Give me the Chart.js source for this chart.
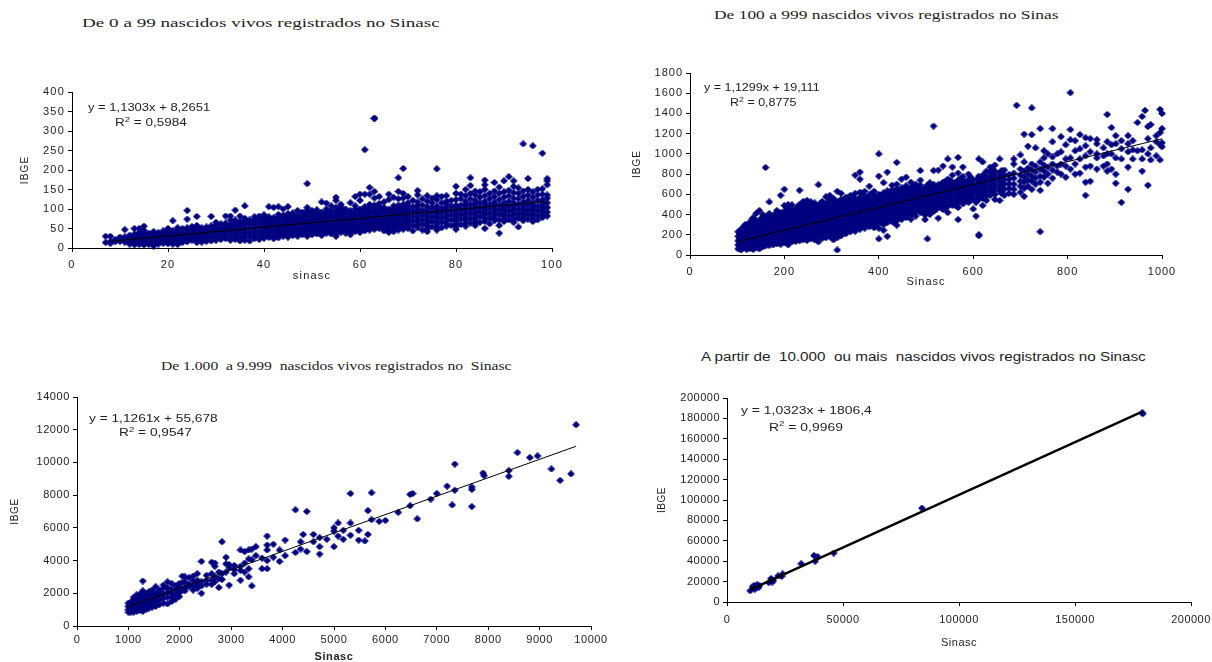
<!DOCTYPE html>
<html>
<head>
<meta charset="utf-8">
<title>Sinasc x IBGE</title>
<script src="https://cdn.jsdelivr.net/npm/chart.js@4"></script>
<style>
html, body { margin: 0; background: #fff; width: 1212px; height: 662px; overflow: hidden; }
body { filter: blur(0.45px); }
canvas { position: absolute; }
.lbl { position: absolute; white-space: nowrap; transform-origin: left center; line-height: 14px; color: #222; }
.lbl sup { font-size: 70%; line-height: 0; }
</style>
</head>
<body>
<script>
// each row: sinasc value, then the ibge values read at that sinasc value
const rows1 = [
[7,14,30],[8,12,17,30],[9,16,22],[10,17,22,28],[11,15,20,29,47],[12,14,19,26,33],[13,8,13,20,27,36,50],[14,9,16,24,31,40,50],[15,8,12,20,27,36,45,56],[16,9,14,22,30,38],
[17,5,11,18,26,34,42],[18,10,16,23,31,40],[19,12,18,26,35,44],[20,11,17,25,33,42,50],[21,10,18,27,36,45,70],[22,9,15,24,32,41,52],[23,14,21,30,39,50],[24,16,24,33,42,52,74,96],[25,20,28,37,46,55],[26,14,23,31,40,49,58,81],
[27,15,25,34,43,52],[28,17,26,36,45,54],[29,18,28,38,47,57,81],[30,20,30,39,49,58,66],[31,22,32,41,50,62],[32,24,33,43,53,64,82],[33,20,30,40,50,60,72,82],[34,22,31,42,52,62,72,97],[35,18,28,38,48,58,68,82],[36,20,32,44,56,66,76,108],
[37,18,30,40,50,62,72],[38,24,35,46,56,66,80],[39,22,32,42,54,64,74,82],[40,25,36,47,58,68,78,85],[41,27,38,48,60,70,80,106],[42,24,35,46,56,68,78,104],[43,26,38,50,60,72,86,106],[44,30,40,52,62,74,84,100],[45,28,40,50,64,76,88,106],[46,32,44,56,66,78,90],
[47,30,42,52,64,76,96],[48,34,46,58,70,82,92],[49,30,42,54,66,78,90,104,165],[50,34,46,58,70,82,96],[51,36,48,60,72,84,98],[52,32,44,56,68,80,92,118],[53,38,50,62,74,86,100,115],[54,36,48,60,72,84,96,108],[55,30,42,54,66,78,90,104,122,130],[56,40,52,64,76,88,100,112],
[57,38,50,62,74,86,100],[58,34,46,58,70,82,96,116],[59,42,54,66,78,90,108,132],[60,40,52,64,76,88,100,122,138],[61,44,56,68,80,92,106,138,252],[62,46,58,70,82,94,112,138,155],[63,48,60,72,84,96,110,128,145,332,333],[64,50,62,74,86,98,114,132],[65,44,56,68,80,92,104,118],[66,40,52,64,76,88,100,124,138],
[67,42,58,70,82,94,108,130],[68,46,60,72,84,96,110,126,145,180],[69,48,62,74,86,98,112,128,140,204],[70,50,64,76,88,100,116,132],[71,44,58,70,82,94,106,122],[72,52,66,78,90,102,118,136,147],[73,46,60,72,84,96,110,126],[74,42,56,68,80,92,106,120,134],[75,54,68,80,92,104,116,128],[76,46,60,72,84,96,108,124,134,203],
[77,52,66,78,90,102,116,132],[78,56,70,82,94,106,120,134],[79,58,72,84,96,108,122],[80,48,62,74,86,98,110,124,140,158],[81,60,74,86,98,110,126,138],[82,56,70,82,94,106,120,134,150],[83,64,76,88,100,112,126,140,160,180],[84,58,72,84,96,108,122,136,146],[85,66,80,92,104,116,130,144],[86,50,68,82,94,106,120,134,150,162,174],
[87,62,76,88,100,112,126,140],[88,70,82,94,106,118,132,146,168],[89,38,58,72,86,98,110,124,140,156],[90,68,80,92,104,116,130,144,172],[91,72,84,96,108,120,134,148,183],[92,66,78,90,102,116,128,142,158,172],[93,54,76,88,100,112,126,140,154],[94,70,82,94,106,118,132,146,267],[95,74,86,98,110,122,136,150,178],[96,68,80,92,104,116,130,144,262],
[97,72,84,96,108,122,136,150],[98,78,88,100,112,124,138,152,243],[99,82,92,104,116,128,136,162,172,178]
];
// the dense core of the first cloud
const rows1core = [
[10,24],[12,10,23,29],[14,13,20,28,36],[16,12,18,26,34],[18,13,20,27,35],[20,14,21,29,37,46],[22,12,20,28,36,46],[24,20,28,37,47],[26,19,27,35,44,54],[28,21,31,40,49],[30,25,34,44,53],[32,29,38,48,58],[34,26,36,47,57,66],[36,26,38,50,61,71],[38,29,40,51,61,72],[40,30,41,52,63,73],[41,33,43,54,65,75],[42,30,40,51,62,73],[43,32,44,55,66,79],[44,35,46,57,68,79],
[45,34,45,57,70,82],[46,38,50,61,72,84],[47,36,47,58,70,84],[48,40,52,64,76,87],[49,36,48,60,72,84,97],[50,40,52,64,76,89],[51,42,54,66,78,91],[52,38,50,62,74,86],[53,44,56,68,80,93],[54,42,54,66,78,90],[55,36,48,60,72,84,97],[56,46,58,70,82,94,106],[57,44,56,68,80,93],[58,40,52,64,76,89],[59,48,60,72,84,99],[60,46,58,70,82,94],[61,50,62,74,86,99],[62,52,64,76,88,103],[63,54,66,78,90,103],[64,56,68,80,92,106],
[65,50,62,74,86,98],[66,46,58,70,82,94],[67,50,64,76,88,101],[68,53,66,78,90,103],[69,55,68,80,92,105],[70,57,70,82,94,108],[72,59,72,84,96,110],[74,49,62,74,86,99],[76,53,66,78,90,102],[78,63,76,88,100,113],[80,55,68,80,92,104],[82,63,76,88,100,113],[84,65,78,90,102,115],[86,75,88,100,113],[88,76,88,100,112],[90,74,86,98,110],[92,72,84,96,109],[94,76,88,100,112],[96,74,86,98,110],[98,83,94,106,118]
];
const rows2 = [
[102,60,100,140,185,230],[108,50,85,125,165,205,250],[114,70,110,150,195,240,280],[120,55,95,135,175,220,265,300],[127,65,105,150,190,235,280,320],[134,55,100,140,185,225,270,315,370],[140,70,115,160,205,250,295,340,410],[147,60,110,155,200,245,290,335,440],[154,80,125,170,215,260,305,350,400],
[160,90,135,180,225,270,315,360,865],[168,95,140,185,230,275,320,365,410,525],[176,100,145,190,235,280,325,370],[184,110,155,200,245,290,335,380,440],[192,105,150,195,240,285,330,375,420,590],[200,120,165,210,255,300,345,390,435,490,650],[208,100,140,185,230,275,320,365,410,455,500],[216,130,175,220,265,310,355,400,445,495],[224,135,180,225,270,315,360,405,450],
[232,140,185,230,275,320,365,410,455,500,640],[240,150,195,240,285,330,375,420,470,530],[248,145,190,235,280,325,370,415,460,540],[256,160,205,250,295,340,385,430,475,525],[264,150,195,240,285,330,375,420,465,515],[272,130,175,220,265,310,355,400,445,490,695],[280,165,210,255,300,345,390,435,480,530],[288,170,215,260,305,350,395,440,485,575],[296,185,230,275,320,365,410,455,500,550,590],
[304,150,195,240,285,330,375,420,465,510,560],[312,50,170,215,260,305,350,395,440,485,530,630],[320,190,235,280,325,370,415,460,505,550,610],[330,210,255,300,345,390,435,480,525,570],[340,230,275,320,365,410,455,500,545,590],[350,235,280,325,370,415,460,505,550,610,790],[360,255,300,345,390,435,480,525,570,620,750,820],[370,265,310,355,400,445,490,535,580,630],[380,280,325,370,415,460,505,550,595,680],
[390,270,315,360,405,450,495,540,585,630],[400,160,265,330,375,420,465,510,555,600,780,1000],[410,245,300,345,390,435,480,525,570,615,715],[418,185,320,365,410,455,500,545,590,635,820],[428,330,375,420,465,510,555,600,645,690],[438,295,340,385,430,475,520,565,610,655,700,915],[448,350,395,440,485,530,575,620,665,750],[458,370,415,460,505,550,595,640,685,770],[468,355,400,445,490,535,580,625,670,720],
[478,385,430,475,520,565,610,655,700],[488,420,465,510,555,600,645,690,740,835],[498,350,395,440,485,530,575,620,665],[503,160],[508,400,445,490,535,580,625,670,715],[516,430,475,520,565,610,655,700,835,1275],[526,365,470,515,560,605,650,695,840],[536,450,495,540,585,630,675,720,880],[546,420,480,525,570,615,660,705,750,950],[556,490,535,580,625,670,715,790,870],
[568,350,470,515,560,605,650,695,740,810,965],[578,505,550,595,640,685,730,775,870],[590,520,565,610,655,700,745,800],[600,455,560,605,650,695,740],[606,385,520,640,690],[612,190,200,550,600,645,690,735,780,950],[620,490,560,605,650,695,740,785,920],[628,540,590,635,680,725,770,830],[636,590,640,685,730,775,820,870],[646,550,600,650,695,740,785,830,890],[656,540,630,675,720,765,810,950],
[666,590,650,700,745,790,840],[676,610,660,705,750,795],[686,600,650,700,760,810,900,950],[692,1480],[700,620,680,730,790,850,990],[708,580,660,720,770,830,920,1195],[716,680,740,800,860,1075],[724,650,730,780,840,900,1190,1455],[732,700,760,820,880,1060],[742,230,640,720,780,850,920,1250],[750,770,830,890,960,1030],[758,710,800,870,1000],[768,760,840,900,970,1120,1250],
[778,820,880,1000],[786,800,900,1020,1170],[796,770,880,950,1090],[806,850,960,1140,1240,1605],[816,800,900,1030,1130],[826,810,950,1050,1190],[838,590,720,870,980,1080,1160],[848,730,880,1020,1150],[862,850,960,1000,1100,1140],[876,880,980,1060],[884,830,900,1000,1120,1390],[893,850,1000,1090,1260],[902,710,800,960,1100,1180],[914,520,950,1050,1130],
[928,650,870,1020,1100,1180],[938,950,1040,1130],[948,1030,1310],[958,830,950,1040,1370],[964,1430],[970,690,1000,1150,1270],[976,940,1060,1290],[988,980,1120,1180],[996,940,1090,1210,1440],[1000,1070,1110,1250,1400]
];
// the dense core of the second cloud
const rows2core = [
[105,80,120,162,208],[111,68,105,145,185,228,265],[117,90,130,172,218,260,300],[124,80,120,163,205,250,295],[130,85,128,170,212,258,300,345],[137,78,120,162,205,248,292],[143,92,138,182,228,272,318],[150,85,132,178,222,268,312,360],[157,102,148,192,238,282,328],[164,112,158,202,248,292,338,385],[172,118,162,208,252,298,345,390],[180,128,178,222,268,312,358,405],[188,130,172,218,262,308,352,400],[196,138,188,232,278,322,368,412],
[204,122,162,208,252,298,342,388,432,478],[212,152,198,242,288,332,378,422,470],[220,158,202,248,292,338,382,428],[228,162,208,252,298,342,388,432,478],[236,172,218,262,308,352,398,445,500],[244,168,212,258,302,348,392,438,490],[252,182,228,272,318,362,408,452,505],[260,172,218,262,308,352,398,442,490],[268,155,198,242,288,332,378,422,468],[276,188,232,278,322,368,412,458,505],[284,192,238,282,328,372,418,462,510],[292,208,252,298,342,388,432,478,525],
[300,172,218,262,308,352,398,442,488,535],[308,195,238,282,328,372,418,462,508],[316,212,258,302,348,392,438,482,530],[325,232,278,322,368,412,458,502,548],[335,252,298,342,388,432,478,522,568],[345,258,302,348,392,438,482,528,575],[355,278,322,368,412,458,502,548],[365,288,332,378,422,468,512,558,605],[375,302,348,392,438,482,528,572],[385,292,338,382,428,472,518,562,610],[395,300,352,398,442,488,532,578],[405,320,368,412,458,502,548,592],[414,342,388,432,478,522,568,612],
[423,352,398,442,488,532,578,622],[433,318,362,408,452,498,542,588,632],[443,372,418,462,508,552,598,642],[453,392,438,482,528,572,618,662],[463,378,422,468,512,558,602,648],[473,408,452,498,542,588,632,678],[483,442,488,532,578,622,668],[493,418,462,508,552,598,642],[503,422,468,512,558,602,648,692],[512,452,498,542,588,632,678],[521,448,492,538,582,628,672],[531,472,518,562,608,652,698],[541,458,502,548,592,638,682,730],[551,512,558,602,648,692,738],[562,492,538,582,628,672,718],
[573,528,572,618,662,708,755],[584,538,588,632,678,722],[595,542,588,632,678,722,770],[610,582,622,668,712,758],[624,568,615,658,702,748,800],[640,620,665,708,752,798,850],[660,610,655,698,742,788,835]
];
const rows3 = [
[1000,850,1000,1200,1400],[1040,830,1050,1250,1450],[1100,850,1100,1350,1600,1750],[1160,900,1150,1400,1650,1900],[1220,950,1200,1450,1700,1950],[1280,900,1150,1400,1650,1900,2150,2750],[1340,1000,1250,1500,1750,2000],[1400,1100,1350,1600,1850,2100],[1460,1150,1400,1650,1900,2200],[1530,1200,1500,1750,2000,2400],[1600,1300,1600,1850,2100,2200],[1680,1400,1700,1950,2300,2500],
[1760,1350,1750,2050,2350,2700],[1840,1500,1750,2000,2250,2600],[1920,1650,1900,2200,2450],[1990,1800,2050,2400,2600],[2050,2200,2650,3050],[2100,2150,2350,2700,3000],[2180,2400,2550,2950],[2260,2200,2450,2750,3050],[2340,2300,2550,2800,3200],[2420,2000,2450,2700,3950],[2520,2550,2800,3100],[2620,2550,2800,3200,3900],[2680,2700,3000,3650,3850],[2760,2350,2900,3300],
[2820,2850,3200,5150],[2900,3300,3800,4200],[2960,2500,3550,3750],[3060,3200,3450,3700],[3180,2800,3400,3650,4650],[3260,3300,3850,4550],[3340,3000,3500,4100,4650],[3400,2450,4050,4700],[3480,4300,4850],[3600,3500,4150],[3700,3500,4000,4650,4950,5500],[3820,4200,5000],[3940,3950,4650],[4050,4300,5250],[4250,4500,7100],[4350,4700,5150],[4400,5600],[4470,4550,7000],
[4600,5150,5600],[4720,4400,4850,5400],[4860,5300],[5000,4850,5800,6000],[5080,5500,6300],[5180,5300,5850],[5320,5550,6300,8100],[5480,5250,5850],[5600,5200],[5660,5600,7050],[5730,6500,8150],[5880,6400],[6000,6450],[6250,6950],[6480,7350,8050],[6530,8100],[6620,6550],[6880,7750],[7000,8100],[7200,8550],[7300,7400],[7350,8300,9900],[7680,7300,8350,8500],[7900,9350],[7920,9200],[8400,9150,9500],[8570,10600],[8810,10300],[8960,10400],[9230,9600],[9400,8900],[9610,9300],[9710,12300]
];
const sinasc4 = [10000,11000,11700,12000,12500,13000,13500,14000,18000,19000,19500,20000,22000,23500,24000,32000,37500,38000,39000,46000,84000,179000,179200];
const ibge4 = [11000,15000,16000,12500,14500,17000,14000,16000,19000,23000,19500,21000,25500,25000,27500,37500,45500,40000,44500,48000,92000,185500,184500];

const trendX1 = [8,99], trendY1 = [17.3,120];
const trendX2 = [102,1000], trendY2 = [134,1149];
const trendX3 = [1000,9710], trendY3 = [1182,10990];
const trendX4 = [10000,179000], trendY4 = [12129,186588];

const xTicks1 = [0,20,40,60,80,100], yTicks1 = [0,50,100,150,200,250,300,350,400];
const xTicks2 = [0,200,400,600,800,1000], yTicks2 = [0,200,400,600,800,1000,1200,1400,1600,1800];
const xTicks3 = [0,1000,2000,3000,4000,5000,6000,7000,8000,9000,10000], yTicks3 = [0,2000,4000,6000,8000,10000,12000,14000];
const xTicks4 = [0,50000,100000,150000,200000], yTicks4 = [0,20000,40000,60000,80000,100000,120000,140000,160000,180000,200000];

const SANS = '"Liberation Sans", Arial, sans-serif';
const SERIF = '"Liberation Serif", "Times New Roman", serif';
const NAVY = '#000080';

function fromRows(rows) {
  return rows.flatMap(r => r.slice(1).map(v => ({ x: r[0], y: v })));
}
function zip(xs, ys) {
  return xs.map((x, i) => ({ x: x, y: ys[i] }));
}

// rounded diamond, the excel marker after the scan softened it
function makeMarker() {
  const m = document.createElement('canvas');
  m.width = 8;
  m.height = 7;
  const g = m.getContext('2d');
  g.fillStyle = g.strokeStyle = NAVY;
  g.lineWidth = 1.2;
  g.lineJoin = 'round';
  g.beginPath();
  g.moveTo(4, 0.8);
  g.lineTo(7, 3.5);
  g.lineTo(4, 6.2);
  g.lineTo(1, 3.5);
  g.closePath();
  g.fill();
  g.stroke();
  return m;
}
const marker = makeMarker();

function addLabel(html, left, cy, font, size, sx) {
  const d = document.createElement('div');
  d.className = 'lbl';
  d.innerHTML = html;
  d.style.left = left + 'px';
  d.style.top = (cy - 7) + 'px';
  d.style.fontFamily = font;
  d.style.fontSize = size + 'px';
  d.style.transform = 'scaleX(' + sx + ')';
  document.body.appendChild(d);
}

// p = plot box in page pixels, tx / ty = centre of the axis titles
function panel(p) {
  const padTop = 10, padRight = 30;
  const left = p.ty - 6, top = p.top - padTop;
  const c = document.createElement('canvas');
  c.width = p.right + padRight - left;
  c.height = p.tx + 6 - top;
  c.style.left = left + 'px';
  c.style.top = top + 'px';
  document.body.appendChild(c);

  const tickFont = { family: SANS, size: 11 };
  new Chart(c.getContext('2d'), {
    type: 'scatter',
    plugins: [{
      id: 'wideLabels',   // the scanned labels are wide
      beforeDraw: chart => { chart.ctx.letterSpacing = p.spacing + 'px'; }
    }],
    data: {
      datasets: [
        { label: 'tendência', data: p.trend, showLine: true, borderColor: '#000', borderWidth: p.trendWidth || 1, pointRadius: 0, order: 0 },
        { label: 'municípios', data: p.points, pointStyle: marker, pointRadius: 3, clip: false, order: 1 }
      ]
    },
    options: {
      responsive: false,
      animation: false,
      layout: { padding: { top: padTop, right: padRight, left: 0, bottom: 0 } },
      plugins: { legend: { display: false }, tooltip: { enabled: false } },
      scales: {
        x: {
          type: 'linear',
          min: p.xTicks[0],
          max: p.xTicks[p.xTicks.length - 1],
          afterBuildTicks: s => { s.ticks = p.xTicks.map(v => ({ value: v })); },
          afterFit: s => { s.height = p.tx + 6 - p.bottom; },
          grid: { drawOnChartArea: false, drawTicks: true, tickLength: 4, color: '#000' },
          border: { color: '#000' },
          ticks: { autoSkip: false, maxRotation: 0, color: '#222', font: tickFont, padding: p.xPad, callback: v => String(v) },
          title: { display: true, text: p.xTitle, color: '#222', padding: 0, font: { family: SANS, size: 11, weight: p.xBold ? 'bold' : 'normal' } }
        },
        y: {
          type: 'linear',
          min: 0,
          max: p.yTicks[p.yTicks.length - 1],
          afterBuildTicks: s => { s.ticks = p.yTicks.map(v => ({ value: v })); },
          afterFit: s => { s.width = p.left - left; },
          grid: { drawOnChartArea: false, drawTicks: true, tickLength: 4, color: '#000' },
          border: { color: '#000' },
          ticks: { autoSkip: false, color: '#222', font: tickFont, padding: 3, callback: v => String(v) },
          title: { display: true, text: 'IBGE', color: '#222', padding: 0, font: { family: SANS, size: 10 } }
        }
      }
    }
  });
}

panel({ left: 72, right: 552, top: 92, bottom: 248, tx: 277, ty: 25, xPad: 6, spacing: 1.2, xTitle: 'sinasc', xTicks: xTicks1, yTicks: yTicks1, points: fromRows(rows1.concat(rows1core)), trend: zip(trendX1, trendY1) });
panel({ left: 690, right: 1162, top: 73, bottom: 255, tx: 283, ty: 637, xPad: 6, spacing: 1, xTitle: 'Sinasc', xTicks: xTicks2, yTicks: yTicks2, points: fromRows(rows2.concat(rows2core)), trend: zip(trendX2, trendY2) });
panel({ left: 77, right: 591, top: 397, bottom: 626, tx: 658, ty: 15, xPad: 3, spacing: 0.6, xTitle: 'Sinasc', xBold: true, xTicks: xTicks3, yTicks: yTicks3, points: fromRows(rows3), trend: zip(trendX3, trendY3) });
panel({ left: 727, right: 1191, top: 398, bottom: 602, tx: 644, ty: 662, xPad: 7, spacing: 0.5, xTitle: 'Sinasc', trendWidth: 2.4, xTicks: xTicks4, yTicks: yTicks4, points: zip(sinasc4, ibge4), trend: zip(trendX4, trendY4) });

addLabel('De 0 a 99 nascidos vivos registrados no Sinasc', 82, 23, SERIF, 13, 1.47);
addLabel('De 100 a 999 nascidos vivos registrados no Sinas', 714, 15, SERIF, 13, 1.34);
addLabel('De 1.000 &nbsp;a 9.999 &nbsp;nascidos vivos registrados no &nbsp;Sinasc', 161, 366, SERIF, 12, 1.3);
addLabel('A partir de &nbsp;10.000 &nbsp;ou mais &nbsp;nascidos vivos registrados no Sinasc', 701, 357, SANS, 12, 1.27);

addLabel('y = 1,1303x + 8,2651', 88, 108, SANS, 10, 1.3);
addLabel('R<sup>2</sup> = 0,5984', 115, 123, SANS, 10, 1.35);
addLabel('y = 1,1299x + 19,111', 704, 88, SANS, 10, 1.25);
addLabel('R<sup>2</sup> = 0,8775', 730, 103, SANS, 10, 1.25);
addLabel('y = 1,1261x + 55,678', 89, 419, SANS, 10, 1.37);
addLabel('R<sup>2</sup> = 0,9547', 119, 433, SANS, 10, 1.37);
addLabel('y = 1,0323x + 1806,4', 741, 410, SANS, 11.5, 1.21);
addLabel('R<sup>2</sup> = 0,9969', 769, 427, SANS, 11.5, 1.21);
</script>
</body>
</html>
